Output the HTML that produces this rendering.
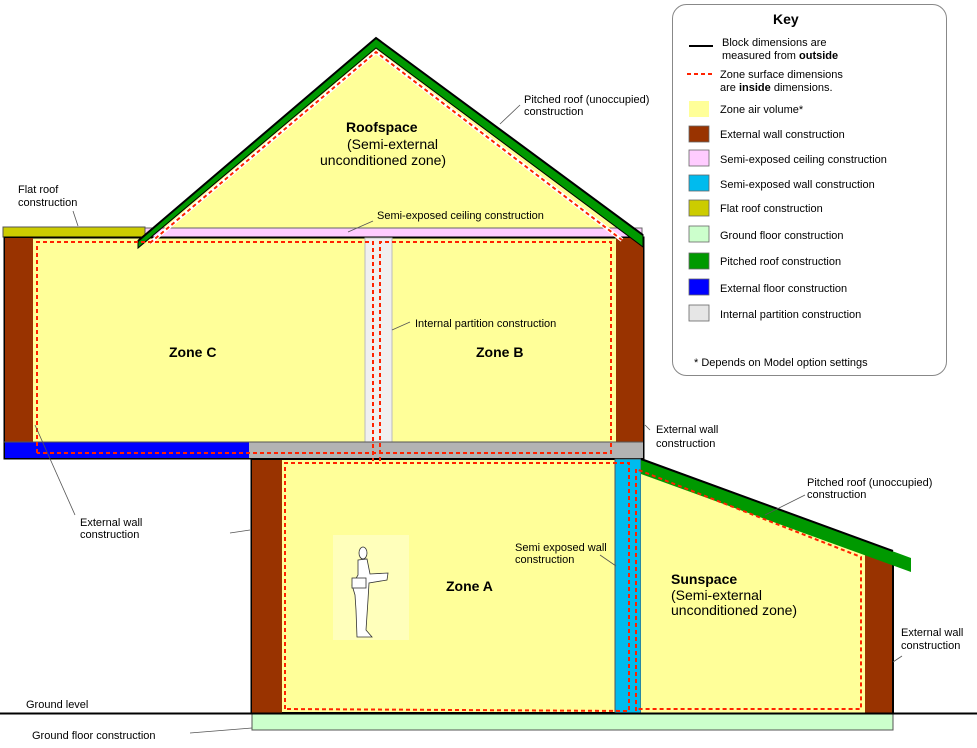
<!DOCTYPE html>
<html><head><meta charset="utf-8"><style>
html,body{margin:0;padding:0;background:#fff}
svg{display:block}
text{font-family:"Liberation Sans",Arial,sans-serif;font-size:11px;fill:#000}
</style></head><body>
<svg width="977" height="748" viewBox="0 0 977 748" xmlns="http://www.w3.org/2000/svg">
<!-- roofspace yellow -->
<polygon points="376,44 143,242 640,242" fill="#ffff99"/>
<!-- pink ceiling -->
<rect x="145" y="228" width="497" height="10" fill="#ffccff" stroke="#666" stroke-width="1"/>
<!-- flat roof -->
<rect x="3" y="227" width="142" height="10" fill="#cccc00" stroke="#555" stroke-width="1"/>
<!-- upper block -->
<rect x="4.5" y="237.5" width="639" height="221" fill="#ffff99" stroke="#000" stroke-width="2"/>
<rect x="5" y="238" width="28" height="204" fill="#993300"/>
<rect x="616" y="238" width="27" height="204" fill="#993300"/>
<rect x="365" y="238" width="27" height="204" fill="#f0f0f0" stroke="#bbb" stroke-width="1"/>
<rect x="5" y="442" width="244" height="16" fill="#0000ff"/>
<rect x="249" y="442" width="394" height="16" fill="#b3b3b3"/>
<line x1="4" y1="442" x2="643" y2="442" stroke="#555" stroke-width="1"/>
<!-- pitched roof main -->
<polygon points="376,38 138,238 138,246 376,47 643,240 643,247" fill="none"/>
<polygon points="376,38 643,235 643,247 376,48 138,248 138,241" fill="#009900" stroke="#000" stroke-width="1"/>
<polyline points="138,241 376,38 643,235" fill="none" stroke="#000" stroke-width="2"/>
<!-- roof dashed -->
<polyline points="150,243 376,52 622,240" fill="none" stroke="#fff" stroke-width="4"/>
<polyline points="150,243 376,52 622,240" fill="none" stroke="#ff2200" stroke-width="2" stroke-dasharray="4,3"/>
<!-- lower block -->
<rect x="251.5" y="459" width="391" height="254" fill="#ffff99" stroke="#000" stroke-width="2"/>
<rect x="252" y="460" width="30" height="253" fill="#993300"/>
<rect x="615" y="459" width="26" height="254" fill="#00bbee" stroke="#555" stroke-width="1"/>
<!-- sunspace -->
<polygon points="641,462 893,553 893,713 641,713" fill="#ffff99"/>
<rect x="865" y="553" width="28" height="160" fill="#993300"/>
<line x1="893" y1="553" x2="893" y2="713" stroke="#000" stroke-width="2"/>
<polygon points="641,459 911,558 911,572 641,474" fill="#009900"/>
<line x1="641" y1="459" x2="893" y2="551" stroke="#000" stroke-width="2"/>
<!-- ground floor -->
<rect x="252" y="713" width="641" height="17" fill="#ccffcc" stroke="#555" stroke-width="1"/>
<line x1="0" y1="713.5" x2="977" y2="713.5" stroke="#000" stroke-width="2"/>
<!-- person -->
<rect x="333" y="535" width="76" height="105" fill="#ffffbb"/>
<g fill="#fff" stroke="#333" stroke-width="0.8">
<ellipse cx="363" cy="553" rx="4" ry="6"/>
<path d="M358,560 L367,559 L370,574 L388,573 L387,580 L369,583 L368,600 L366,630 L372,637 L357,637 L356,610 L355,595 L352,585 L358,575 Z"/>
<rect x="352" y="578" width="14" height="10"/>
</g>
<!-- dashed zones -->
<g fill="none" stroke="#ff2200" stroke-width="2" stroke-dasharray="4,3">
<polyline points="37,453 37,242 373,242 373,461"/>
<polyline points="380,461 380,242 611,242 611,453 37,453"/>
<polyline points="285,709 285,463 629,463 629,711 285,709"/>
<polyline points="636,711 636,469 861,557 861,709 636,709"/>
</g>
<!-- leaders -->
<g stroke="#555" stroke-width="0.8">
<line x1="73" y1="211" x2="78" y2="226"/>
<line x1="348" y1="232" x2="373" y2="221"/>
<line x1="500" y1="124" x2="520" y2="105"/>
<line x1="392" y1="330" x2="410" y2="322"/>
<line x1="645" y1="425" x2="650" y2="430"/>
<line x1="35" y1="425" x2="75" y2="515"/>
<line x1="230" y1="533" x2="250" y2="530"/>
<line x1="600" y1="555" x2="616" y2="566"/>
<line x1="765" y1="515" x2="805" y2="495"/>
<line x1="893" y1="662" x2="902" y2="656"/>
<line x1="190" y1="733" x2="252" y2="728"/>
</g>
<!-- labels -->
<text x="346" y="132" font-weight="bold" style="font-size:14px">Roofspace</text>
<text x="347" y="149" style="font-size:14px">(Semi-external</text>
<text x="320" y="165" style="font-size:14px">unconditioned zone)</text>
<text x="169" y="357" font-weight="bold" style="font-size:14px">Zone C</text>
<text x="476" y="357" font-weight="bold" style="font-size:14px">Zone B</text>
<text x="446" y="591" font-weight="bold" style="font-size:14px">Zone A</text>
<text x="671" y="584" font-weight="bold" style="font-size:14px">Sunspace</text>
<text x="671" y="600" style="font-size:14px">(Semi-external</text>
<text x="671" y="615" style="font-size:14px">unconditioned zone)</text>
<text x="18" y="193">Flat roof</text><text x="18" y="206">construction</text>
<text x="377" y="219">Semi-exposed ceiling construction</text>
<text x="524" y="103">Pitched roof (unoccupied)</text><text x="524" y="115">construction</text>
<text x="415" y="327">Internal partition construction</text>
<text x="656" y="433">External wall</text><text x="656" y="447">construction</text>
<text x="80" y="526">External wall</text><text x="80" y="538">construction</text>
<text x="515" y="551">Semi exposed wall</text><text x="515" y="563">construction</text>
<text x="807" y="486">Pitched roof (unoccupied)</text><text x="807" y="498">construction</text>
<text x="901" y="636">External wall</text><text x="901" y="649">construction</text>
<text x="26" y="708">Ground level</text>
<text x="32" y="739">Ground floor construction</text>
<!-- key -->
<rect x="672.5" y="4.5" width="274" height="371" rx="14" fill="#fff" stroke="#888" stroke-width="1"/>
<text x="773" y="24" font-weight="bold" style="font-size:14px">Key</text>
<line x1="689" y1="46" x2="713" y2="46" stroke="#000" stroke-width="2"/>
<text x="722" y="46">Block dimensions are</text><text x="722" y="59">measured from <tspan font-weight="bold">outside</tspan></text>
<line x1="687" y1="74" x2="713" y2="74" stroke="#ff2200" stroke-width="2" stroke-dasharray="4,3"/>
<text x="720" y="78">Zone surface dimensions</text><text x="720" y="91">are <tspan font-weight="bold">inside</tspan> dimensions.</text>
<g stroke="#666" stroke-width="0.8">
<rect x="689" y="101" width="20" height="16" fill="#ffff99" stroke="none"/>
<rect x="689" y="126" width="20" height="16" fill="#993300"/>
<rect x="689" y="150" width="20" height="16" fill="#ffccff"/>
<rect x="689" y="175" width="20" height="16" fill="#00bbee"/>
<rect x="689" y="200" width="20" height="16" fill="#cccc00"/>
<rect x="689" y="226" width="20" height="16" fill="#ccffcc"/>
<rect x="689" y="253" width="20" height="16" fill="#009900"/>
<rect x="689" y="279" width="20" height="16" fill="#0000ff"/>
<rect x="689" y="305" width="20" height="16" fill="#e6e6e6"/>
</g>
<text x="720" y="113">Zone air volume*</text>
<text x="720" y="138">External wall construction</text>
<text x="720" y="163">Semi-exposed ceiling construction</text>
<text x="720" y="188">Semi-exposed wall construction</text>
<text x="720" y="212">Flat roof construction</text>
<text x="720" y="239">Ground floor construction</text>
<text x="720" y="265">Pitched roof construction</text>
<text x="720" y="292">External floor construction</text>
<text x="720" y="318">Internal partition construction</text>
<text x="694" y="366">* Depends on Model option settings</text>
</svg>
</body></html>
